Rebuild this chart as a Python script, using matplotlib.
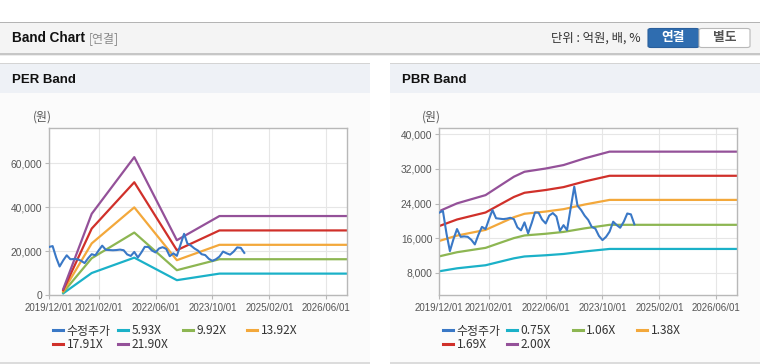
import matplotlib
matplotlib.use('Agg')
import matplotlib.pyplot as plt
from matplotlib.patches import Rectangle, FancyBboxPatch
from matplotlib.lines import Line2D
from matplotlib.ticker import FuncFormatter
import pandas as pd

# ---------------- data ----------------
price_start = '2019-12-01'
price = [21900, 22300, 17000, 13000, 15800, 18100, 16300, 16400, 16300, 15600,
         14550, 16800, 18600, 18100, 20500, 22500, 20600, 20500, 20400, 20500,
         20700, 20400, 18500, 17800, 19650, 17100, 19500, 21950, 21900, 20300,
         19400, 21200, 21800, 21000, 17700, 19000, 17850, 22900, 27900, 23500,
         22500, 21200, 20200, 18600, 18200, 16500, 15550, 16300, 17500, 19800,
         19000, 18400, 19800, 21700, 21500, 19200]

per_dates = ['2020-04-01', '2020-12-01', '2021-12-01', '2022-12-01', '2023-12-01', '2026-12-01']
per_labels = ['5.93X', '9.92X', '13.92X', '17.91X', '21.90X']
per_593 = [740, 10020, 17020, 6760, 9750, 9750]
per_992 = [1240, 16760, 28470, 11310, 16310, 16310]
per_1392 = [1740, 23520, 39950, 15870, 22880, 22880]
per_1791 = [2240, 30270, 51400, 20420, 29440, 29440]
per_2190 = [2740, 37010, 62850, 24970, 36000, 36000]

pbr_dates = ['2019-12-01', '2020-05-01', '2020-09-01', '2021-01-01', '2021-06-01', '2021-09-01',
             '2021-12-01', '2022-06-01', '2022-11-01', '2023-05-01', '2023-12-01', '2026-12-01']
pbr_labels = ['0.75X', '1.06X', '1.38X', '1.69X', '2.00X']
pbr_075 = [8340, 9020, 9380, 9730, 10730, 11330, 11760, 12040, 12340, 12920, 13500, 13500]
pbr_106 = [11790, 12740, 13250, 13750, 15160, 16010, 16620, 17010, 17440, 18260, 19080, 19080]
pbr_138 = [15350, 16590, 17250, 17910, 19730, 20840, 21630, 22150, 22700, 23770, 24840, 24840]
pbr_169 = [18800, 20310, 21130, 21930, 24170, 25520, 26490, 27130, 27800, 29110, 30420, 30420]
pbr_200 = [22250, 24040, 25000, 25950, 28600, 30200, 31350, 32100, 32900, 34450, 36000, 36000]

x_ticks = ['2019-12-01', '2021-02-01', '2022-06-01', '2023-10-01', '2025-02-01', '2026-06-01']
x_ticklabels = ['2019/12/01', '2021/02/01', '2022/06/01', '2023/10/01', '2025/02/01', '2026/06/01']
per_yticks = [0, 20000, 40000, 60000]
pbr_yticks = [8000, 16000, 24000, 32000, 40000]

# ---------------- style ----------------
W, H = 760, 364
plt.rcParams['font.family'] = ['Liberation Sans', 'Noto Sans CJK KR', 'DejaVu Sans']
KR = ['Noto Sans CJK KR', 'DejaVu Sans']
c_price = '#3a78c6'
band_colors = ['#1bb1c8', '#8db652', '#f3a83b', '#d0302a', '#945199']
grid_c = '#e6e6e6'
spine_c = '#b8b8b8'
tick_txt = '#555555'

fig = plt.figure(figsize=(W / 100, H / 100), dpi=100)
fig.patch.set_facecolor('white')


def rect(x0, y0, x1, y1, fc, ec='none', lw=0, z=0):
    r = Rectangle((x0 / W, 1 - y1 / H), (x1 - x0) / W, (y1 - y0) / H,
                  transform=fig.transFigure, facecolor=fc, edgecolor=ec, lw=lw, zorder=z)
    fig.add_artist(r)


def ftext(x, y, s, **kw):
    fig.text(x / W, 1 - y / H, s, **kw)


# top header bar
rect(0, 21.5, W, 23, '#b4b4b4')
rect(0, 23, W, 53, '#f4f4f4')
rect(0, 53, W, 54.5, '#c6c6c6')
rect(0, 54.5, W, 56, '#ececec')
ftext(12, 38.5, 'Band Chart', fontsize=9.8, weight='bold', va='center', color='#111111')
ftext(89, 38.5, '[연결]', fontsize=8.6, va='center', color='#8a8a8a', family=KR)
ftext(551, 38.5, '단위 : 억원, 배, %', fontsize=8.9, va='center', color='#333333', family=KR)
btn1 = FancyBboxPatch((648 / W, 1 - 47.5 / H), 51 / W, 19 / H, boxstyle='round,pad=0,rounding_size=0.004',
                      transform=fig.transFigure, facecolor='#2f6db0', edgecolor='#2a5f9c', lw=0.8)
fig.add_artist(btn1)
btn2 = FancyBboxPatch((699 / W, 1 - 47.5 / H), 51 / W, 19 / H, boxstyle='round,pad=0,rounding_size=0.004',
                      transform=fig.transFigure, facecolor='white', edgecolor='#b8b8b8', lw=0.8)
fig.add_artist(btn2)
ftext(673.5, 38, '연결', fontsize=9.2, weight='bold', va='center', ha='center', color='white', family=KR)
ftext(724.5, 38, '별도', fontsize=9.2, weight='bold', va='center', ha='center', color='#555555', family=KR)

# panels
for (px0, px1, title) in [(0, 370, 'PER Band'), (390, 760, 'PBR Band')]:
    rect(px0, 62.5, px1, 64, '#d4d4d4')
    rect(px0, 64, px1, 93, '#eef1f6')
    rect(px0, 93, px1, 362, '#fbfbfb')
    rect(px0, 362, px1, 364, '#dcdcdc')
    ftext(px0 + 12, 80, title, fontsize=9.5, weight='bold', va='center', color='#111111')


def style_axes(ax, yticks, ylim, x0px):
    ax.set_facecolor('white')
    ax.set_xlim(pd.Timestamp('2019-12-01'), pd.Timestamp('2026-12-01'))
    ax.set_ylim(*ylim)
    ax.set_xticks([pd.Timestamp(t) for t in x_ticks])
    ax.set_xticklabels(x_ticklabels)
    ax.set_yticks(yticks)
    ax.yaxis.set_major_formatter(FuncFormatter(lambda v, p: f'{int(v):,}'))
    ax.grid(True, color=grid_c, lw=0.8, zorder=0)
    ax.set_axisbelow(True)
    for s in ax.spines.values():
        s.set_color(spine_c)
        s.set_linewidth(1.0)
    ax.tick_params(axis='x', length=3, width=0.8, color=spine_c, labelsize=7.0,
                   labelcolor=tick_txt, pad=3)
    ax.tick_params(axis='y', length=3, width=0.8, color=spine_c, labelsize=7.4,
                   labelcolor=tick_txt, pad=2)
    ftext(x0px, 117, '(원)', fontsize=8.6, va='center', color='#555555', family=KR)


price_dates = pd.date_range(price_start, periods=len(price), freq='MS')


def legend_cols(handles, labels, xs, y_top):
    cols = [[0, 4], [1, 5], [2], [3]]
    for ci, idxs in enumerate(cols):
        fig.legend([handles[i] for i in idxs], [labels[i] for i in idxs],
                   loc='upper left', bbox_to_anchor=(xs[ci] / W, 1 - y_top / H),
                   bbox_transform=fig.transFigure, frameon=False,
                   handlelength=0.85, handletextpad=0.3, borderpad=0, borderaxespad=0,
                   labelspacing=0.05, prop={'family': KR, 'size': 8.6}, labelcolor='#333333')


def draw_panel(rect_px, dates, bands, band_labels, yticks, ylim, unit_x, leg_xs):
    x0, y0, x1, y1 = rect_px
    ax = fig.add_axes([x0 / W, 1 - y1 / H, (x1 - x0) / W, (y1 - y0) / H])
    style_axes(ax, yticks, ylim, unit_x)
    bd = [pd.Timestamp(d) for d in dates]
    ax.plot(price_dates, price, color=c_price, lw=1.5, zorder=3)
    handles = [Line2D([], [], color=c_price, lw=2.2)]
    for vals, col in zip(bands, band_colors):
        ax.plot(bd, vals, color=col, lw=1.6, zorder=2)
        handles.append(Line2D([], [], color=col, lw=2.2))
    labels = ['수정주가'] + band_labels
    legend_cols(handles, labels, leg_xs, 324.5)
    return ax


draw_panel((49, 128.3, 347.3, 295), per_dates,
           [per_593, per_992, per_1392, per_1791, per_2190], per_labels,
           per_yticks, (0, 76000), 33, [53, 118, 183, 247])
draw_panel((439.3, 128.3, 737.3, 295), pbr_dates,
           [pbr_075, pbr_106, pbr_138, pbr_169, pbr_200], pbr_labels,
           pbr_yticks, (2850, 41400), 422, [443, 507, 572.5, 637])

fig.savefig('out.png', dpi=100)
